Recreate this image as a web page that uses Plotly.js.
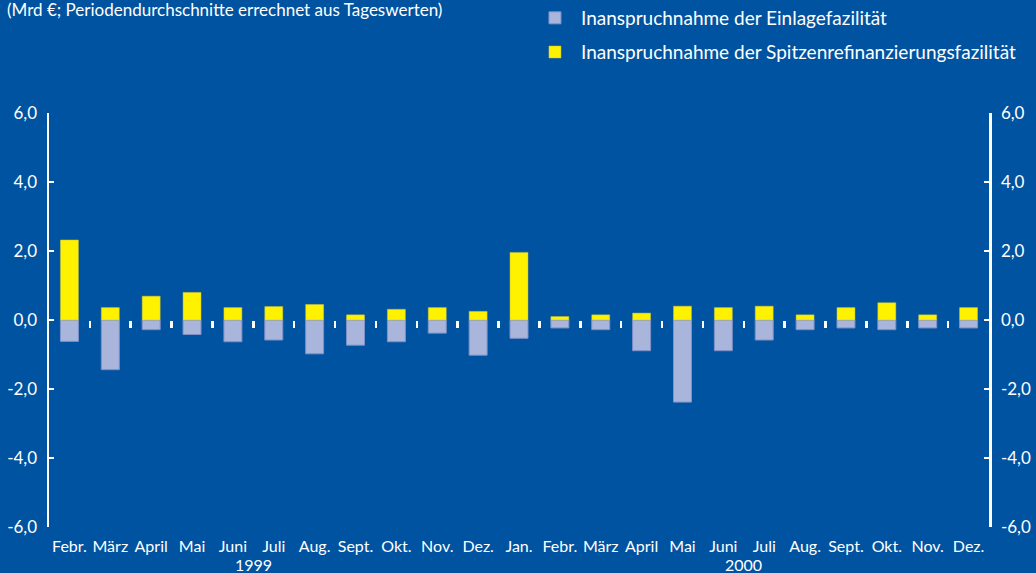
<!DOCTYPE html>
<html>
<head>
<meta charset="utf-8">
<script src="https://cdn.plot.ly/plotly-3.0.1.min.js"></script>
<style>html,body{margin:0;padding:0;background:#0053a0;}#chart{width:1036px;height:573px;}</style>
</head>
<body>
<div id="chart"></div>
<script>
// Months (Febr. 1999 – Dez. 2000)
const months = ["Febr.","März","April","Mai","Juni","Juli","Aug.","Sept.","Okt.","Nov.","Dez.",
                "Jan.","Febr.","März","April","Mai","Juni","Juli","Aug.","Sept.","Okt.","Nov.","Dez."];
// Inanspruchnahme der Einlagefazilität (negative, Mrd €)
const einlage = [-0.62,-1.44,-0.28,-0.42,-0.63,-0.58,-0.98,-0.73,-0.63,-0.38,-1.02,
                 -0.53,-0.23,-0.28,-0.89,-2.38,-0.89,-0.58,-0.28,-0.23,-0.28,-0.23,-0.23];
// Inanspruchnahme der Spitzenrefinanzierungsfazilität (Mrd €)
const spitzen = [2.32,0.36,0.69,0.80,0.36,0.39,0.45,0.15,0.31,0.36,0.25,
                 1.96,0.10,0.15,0.20,0.40,0.36,0.40,0.15,0.36,0.50,0.15,0.36];
// Year labels and the month index they are centred on
const years = ["1999","2000"];
const yearPos = [4.5, 16.5];
// Y axis ticks
const yTickVals = [-6,-4,-2,0,2,4,6];
const yTickText = ["-6,0","-4,0","-2,0","0,0","2,0","4,0","6,0"];

const idx = months.map((_, i) => i);
const separators = idx.slice(0, -1).map(i => i + 0.5);

const BG = '#0053a0';
const FONT = 'Lato, "Open Sans", sans-serif';

const traces = [
  {
    type: 'bar', x: idx, y: einlage, name: 'Inanspruchnahme der Einlagefazilität',
    marker: {color: '#aab5dc', line: {color: '#7d92c8', width: 1}},
    width: 0.44, legend: 'legend', hoverinfo: 'y'
  },
  {
    type: 'bar', x: idx, y: spitzen, name: 'Inanspruchnahme der Spitzenrefinanzierungsfazilität',
    marker: {color: '#fff200', line: {color: '#c8c040', width: 0.5}},
    width: 0.44, legend: 'legend2', hoverinfo: 'y'
  },
  {type: 'scatter', x: [], y: [], xaxis: 'x2', yaxis: 'y', showlegend: false, hoverinfo: 'skip'},
  {type: 'scatter', x: [], y: [], xaxis: 'x', yaxis: 'y2', showlegend: false, hoverinfo: 'skip'}
];

const axisY = {
  range: [-6, 6], tickvals: yTickVals, ticktext: yTickText,
  showgrid: false, zeroline: false, showline: true, linecolor: '#ffffff', linewidth: 2.5,
  ticks: 'inside', ticklen: 5, tickwidth: 2, tickcolor: '#ffffff',
  tickfont: {family: FONT, size: 17, color: '#ffffff'}, ticklabelstandoff: 6, fixedrange: true
};

const layout = {
  width: 1036, height: 573,
  margin: {l: 49, r: 47, t: 113, b: 46, autoexpand: false},
  paper_bgcolor: BG, plot_bgcolor: BG,
  font: {family: FONT, color: '#ffffff'},
  barmode: 'relative',
  showlegend: true,
  xaxis: {
    range: [-0.5, months.length - 0.5], tickvals: idx, ticktext: months,
    showgrid: false, zeroline: false, showline: false, ticks: '',
    tickfont: {family: FONT, size: 16, color: '#ffffff'}, ticklabelstandoff: 8, fixedrange: true
  },
  xaxis2: {
    overlaying: 'x', anchor: 'free', position: 0.5, side: 'bottom',
    range: [-0.5, months.length - 0.5], tickvals: separators,
    showticklabels: false, showgrid: false, zeroline: false, showline: false,
    ticks: 'outside', ticklen: 7, tickwidth: 2.5, tickcolor: '#ffffff', fixedrange: true
  },
  yaxis: Object.assign({}, axisY, {side: 'left'}),
  yaxis2: Object.assign({}, axisY, {side: 'right', overlaying: 'y', anchor: 'x'}),
  legend: {
    x: 0.5106, xanchor: 'left', y: 1.2295, yanchor: 'middle',
    bgcolor: 'rgba(0,0,0,0)', itemwidth: 42,
    font: {family: FONT, size: 19, color: '#ffffff'}
  },
  legend2: {
    x: 0.5106, xanchor: 'left', y: 1.147, yanchor: 'middle',
    bgcolor: 'rgba(0,0,0,0)', itemwidth: 42,
    font: {family: FONT, size: 19, color: '#ffffff'}
  },
  annotations: [
    {
      xref: 'paper', yref: 'paper', x: -0.0468, y: 1.251, xanchor: 'left', yanchor: 'middle',
      text: '(Mrd €; Periodendurchschnitte errechnet aus Tageswerten)', showarrow: false,
      font: {family: FONT, size: 17, color: '#ffffff'}
    }
  ].concat(years.map((t, i) => ({
    xref: 'x', yref: 'paper', x: yearPos[i], y: -0.062, xanchor: 'center', yanchor: 'top',
    text: t, showarrow: false, font: {family: FONT, size: 16, color: '#ffffff'}
  })))
};

Plotly.newPlot('chart', traces, layout, {displayModeBar: false, staticPlot: true});
</script>
</body>
</html>
